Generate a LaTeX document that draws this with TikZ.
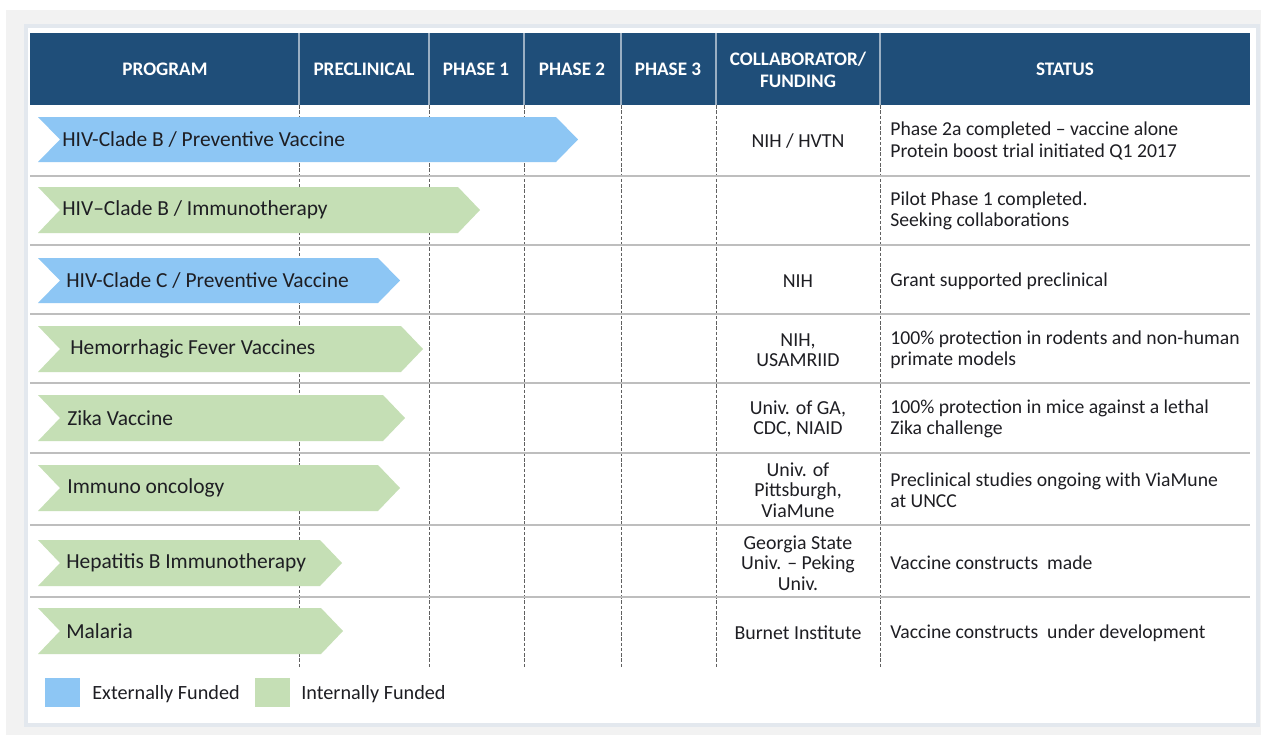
\documentclass[tikz,border=0pt]{standalone}
\usepackage{fontspec}
\setmainfont{Carlito}
\definecolor{headblue}{RGB}{31,78,121}
\definecolor{extblue}{RGB}{141,198,244}
\definecolor{intgreen}{RGB}{197,223,181}
\definecolor{outergray}{RGB}{242,242,242}
\definecolor{cardframe}{RGB}{227,232,238}
\definecolor{rowline}{RGB}{190,190,190}
\definecolor{textdark}{RGB}{30,30,35}
\begin{document}
\begin{tikzpicture}[x=0.02cm, y=-0.02cm]
    \tikzstyle{headtext}=[text=white, align=center, inner sep=0pt, font=\fontsize{10.9}{12.5}\selectfont\bfseries]
    \tikzstyle{bartext}=[anchor=west, text=textdark, inner sep=0pt, font=\fontsize{12.2}{14}\selectfont]
    \tikzstyle{collabtext}=[align=center, text=textdark, inner sep=0pt, font=\fontsize{11.3}{11.6}\selectfont]
    \tikzstyle{statustext}=[anchor=west, align=left, text=textdark, inner sep=0pt, font=\fontsize{11.2}{12}\selectfont]
    \tikzstyle{legendtext}=[anchor=west, text=textdark, inner sep=0pt, font=\fontsize{11.5}{13}\selectfont]
    \useasboundingbox (0,0) rectangle (1261,735);

    % card and header band
    \fill[white] (0,0) rectangle (1261,735);
    \fill[outergray] (6,10) rectangle (1261,735);
    \filldraw[fill=white, draw=cardframe, line width=2.3pt] (26,26) rectangle (1258,725);
    \fill[headblue] (30,33) rectangle (1250,105);
    \draw[white!55!headblue, line width=0.6pt] (299,33) -- (299,105)
                                               (429,33) -- (429,105)
                                               (524,33) -- (524,105)
                                               (621,33) -- (621,105)
                                               (716,33) -- (716,105)
                                               (880,33) -- (880,105);

    \node[headtext] (hprogram) at (165,69) {PROGRAM};
    \node[headtext] (hprecl)   at (364,69) {PRECLINICAL};
    \node[headtext] (hphaseA)  at (476,69) {PHASE 1};
    \node[headtext] (hphaseB)  at (572,69) {PHASE 2};
    \node[headtext] (hphaseC)  at (668,69) {PHASE 3};
    \node[headtext] (hcollab)  at (798,70) {COLLABORATOR/\\FUNDING};
    \node[headtext] (hstatus)  at (1065,69) {STATUS};

    % grid
    \draw[gray!75!black, line width=0.5pt, dash pattern=on 2pt off 1pt] (299,105) -- (299,667)
                                                                         (429,105) -- (429,667)
                                                                         (524,105) -- (524,667)
                                                                         (621,105) -- (621,667)
                                                                         (716,105) -- (716,667)
                                                                         (880,105) -- (880,667);
    \draw[rowline, line width=0.8pt] (30,176) -- (1250,176)
                                     (30,245) -- (1250,245)
                                     (30,314) -- (1250,314)
                                     (30,383) -- (1250,383)
                                     (30,453) -- (1250,453)
                                     (30,525) -- (1250,525)
                                     (30,597) -- (1250,597);

    % program bars
    \fill[extblue] (38,117) -- (556,117) -- (578,139.5) -- (556,162) -- (38,162) -- (60,139.5) -- cycle
                   (38,258) -- (378,258) -- (400,280.5) -- (378,303) -- (38,303) -- (60,280.5) -- cycle;
    \fill[intgreen] (38,187) -- (458,187) -- (480,210) -- (458,233) -- (38,233) -- (60,210) -- cycle
                    (38,326) -- (401,326) -- (423,349) -- (401,372) -- (38,372) -- (60,349) -- cycle
                    (38,395) -- (383,395) -- (405,418) -- (383,441) -- (38,441) -- (60,418) -- cycle
                    (38,465) -- (378,465) -- (400,488) -- (378,511) -- (38,511) -- (60,488) -- cycle
                    (38,540) -- (320,540) -- (342,563) -- (320,586) -- (38,586) -- (60,563) -- cycle
                    (38,608) -- (321,608) -- (343,631) -- (321,654) -- (38,654) -- (60,631) -- cycle;

    \node[bartext] (phivb)   at (62,139.5) {HIV-Clade B / Preventive Vaccine};
    \node[bartext] (phivbim) at (62,210)   {HIV–Clade B / Immunotherapy};
    \node[bartext] (phivc)   at (66,280.5) {HIV-Clade C / Preventive Vaccine};
    \node[bartext] (phemo)   at (70,349)   {Hemorrhagic Fever Vaccines};
    \node[bartext] (pzika)   at (67,418)   {Zika Vaccine};
    \node[bartext] (ponco)   at (67,488)   {Immuno oncology};
    \node[bartext] (phepb)   at (66,563)   {Hepatitis B Immunotherapy};
    \node[bartext] (pmal)    at (66,631)   {Malaria};

    % collaborators
    \node[collabtext] (chivb) at (798,141) {NIH / HVTN};
    \node[collabtext] (chivc) at (798,281) {NIH};
    \node[collabtext] (chemo) at (798,350) {NIH,\\USAMRIID};
    \node[collabtext] (czika) at (798,419) {Univ. of GA,\\CDC, NIAID};
    \node[collabtext] (conco) at (798,490) {Univ. of\\Pittsburgh,\\ViaMune};
    \node[collabtext] (chepb) at (798,563) {Georgia State\\Univ. – Peking\\Univ.};
    \node[collabtext] (cmal)  at (798,633) {Burnet Institute};

    % status
    \node[statustext] (shivb)   at (890,141) {Phase 2a completed – vaccine alone\\Protein boost trial initiated Q1 2017};
    \node[statustext] (shivbim) at (890,211) {Pilot Phase 1 completed.\\Seeking collaborations};
    \node[statustext] (shivc)   at (890,281) {Grant supported preclinical};
    \node[statustext] (shemo)   at (890,350) {100\% protection in rodents and non-human\\primate models};
    \node[statustext] (szika)   at (890,419) {100\% protection in mice against a lethal\\Zika challenge};
    \node[statustext] (sonco)   at (890,490) {Preclinical studies ongoing with ViaMune\\at UNCC};
    \node[statustext] (shepb)   at (890,563) {Vaccine constructs\ \ made};
    \node[statustext] (smal)    at (890,633) {Vaccine constructs\ \ under development};

    % legend
    \fill[extblue]  (45,678) rectangle (80,707);
    \fill[intgreen] (255,678) rectangle (290,707);
    \node[legendtext] (lext) at (92,694)  {Externally Funded};
    \node[legendtext] (lint) at (301,694) {Internally Funded};

\end{tikzpicture}
\end{document}
